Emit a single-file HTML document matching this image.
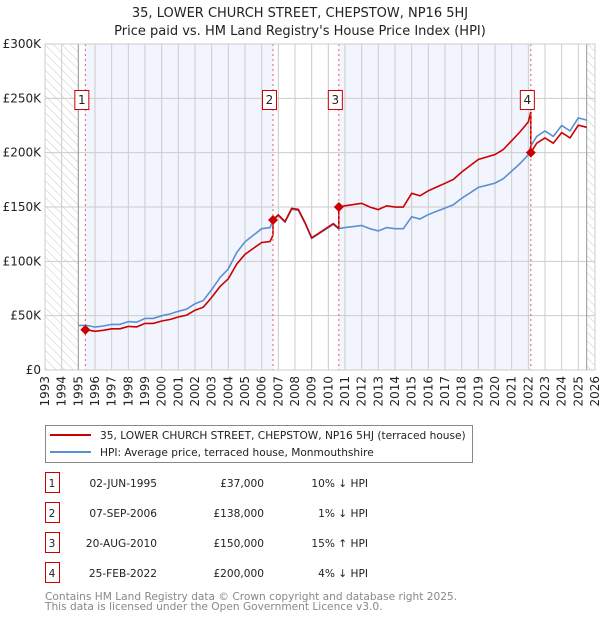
<!DOCTYPE html>
<html><head><meta charset="utf-8"><style>
body{margin:0;background:#fff;font-family:"DejaVu Sans","Liberation Sans",sans-serif}
svg text{font-family:"DejaVu Sans","Liberation Sans",sans-serif}
</style></head><body>
<svg id="c" width="600" height="620" xmlns="http://www.w3.org/2000/svg">
<defs><pattern id="hatch" width="6" height="6" patternUnits="userSpaceOnUse" patternTransform="rotate(-45)"><line x1="0" y1="0" x2="0" y2="6" stroke="#bbb" stroke-width="0.8"/></pattern></defs>
<text x="300" y="17" text-anchor="middle" font-size="13" fill="#222">35, LOWER CHURCH STREET, CHEPSTOW, NP16 5HJ</text>
<text x="300" y="35" text-anchor="middle" font-size="13" fill="#222">Price paid vs. HM Land Registry's House Price Index (HPI)</text>
<g id="plot"></g>
<g id="legend">
<rect x="45.5" y="425.5" width="427" height="37" fill="#fff" stroke="#888"/>
<line x1="50" y1="435" x2="91" y2="435" stroke="#cc0000" stroke-width="2"/>
<text x="100" y="439" font-size="10.6" fill="#222">35, LOWER CHURCH STREET, CHEPSTOW, NP16 5HJ (terraced house)</text>
<line x1="50" y1="452" x2="91" y2="452" stroke="#5b8fd4" stroke-width="2"/>
<text x="100" y="456" font-size="10.6" fill="#222">HPI: Average price, terraced house, Monmouthshire</text>
</g>
<g id="table" font-size="10.6" fill="#222"></g>
<text x="45" y="600" font-size="10.6" fill="#888">Contains HM Land Registry data © Crown copyright and database right 2025.</text>
<text x="45" y="610" font-size="10.6" fill="#888">This data is licensed under the Open Government Licence v3.0.</text>
</svg>
<script>
const hpiYears=[1995.0,1995.5,1996,1996.5,1997,1997.5,1998,1998.5,1999,1999.5,2000,2000.5,2001,2001.5,2002,2002.5,2003,2003.5,2004,2004.5,2005,2005.5,2006,2006.5,2006.7,2007,2007.4,2007.8,2008.2,2008.6,2009.0,2009.5,2010,2010.3,2010.6,2011,2011.5,2012,2012.5,2013,2013.5,2014,2014.5,2015,2015.5,2016,2016.5,2017,2017.5,2018,2018.5,2019,2019.5,2020,2020.5,2021,2021.5,2022,2022.15,2022.5,2023,2023.5,2024,2024.5,2025,2025.5];
const hpiValues=[41,41,39.5,40.5,42,42,44.5,44,47.5,47.5,50,51.5,54,56,61,64,74,85,93,108,118,124,130,131,138,142,136,148,147,135,121,126,131,134,130,131,132,133,130,128,131,130,130,141,139,143,146,149,152,158,163,168,170,172,176,183,190,198,206,215,220,215,225,220,232,230];
const saleLabels=["1","2","3","4"];
const saleYears=[1995.42,2006.68,2010.63,2022.15];
const salePrices=[37000,138000,150000,200000];
const saleDates=["02-JUN-1995","07-SEP-2006","20-AUG-2010","25-FEB-2022"];
const salePriceText=["£37,000","£138,000","£150,000","£200,000"];
const saleDiffText=["10% ↓ HPI","1% ↓ HPI","15% ↑ HPI","4% ↓ HPI"];
const yTicks=[0,50000,100000,150000,200000,250000,300000];
const yTickLabels=["£0","£50K","£100K","£150K","£200K","£250K","£300K"];

const NS="http://www.w3.org/2000/svg";
const X0=45,X1=595,Y0=370,Y1=44,xMin=1993,xMax=2026,yMax=300000;
const xs=v=>X0+(v-xMin)/(xMax-xMin)*(X1-X0);
const ys=v=>Y0-v/yMax*(Y0-Y1);
function mk(tag,a,p){const e=document.createElementNS(NS,tag);for(const k in a)e.setAttribute(k,a[k]);(p||plot).appendChild(e);return e;}
const plot=document.getElementById('plot');
function hpiAt(t){for(let i=0;i<hpiYears.length-1;i++){if(t<=hpiYears[i+1]){const f=(t-hpiYears[i])/(hpiYears[i+1]-hpiYears[i]);return (hpiValues[i]+f*(hpiValues[i+1]-hpiValues[i]))*1000;}}return hpiValues[hpiValues.length-1]*1000;}

let r;
r=mk('rect',{x:X0,y:Y1,width:xs(1995)-X0,height:Y0-Y1,fill:'url(#hatch)'});


r=mk('rect',{x:xs(2025.5),y:Y1,width:X1-xs(2025.5),height:Y0-Y1,fill:'url(#hatch)'});


for(let i=0;i<saleYears.length;i+=2){
 const a=saleYears[i],b=i+1<saleYears.length?saleYears[i+1]:2025.5;
 r=mk('rect',{x:xs(a),y:Y1,width:xs(b)-xs(a),height:Y0-Y1,fill:'#f2f5fd'});
 
 
}
for(let y=xMin;y<=xMax;y++){
 const g=mk('line',{x1:xs(y),x2:xs(y),y1:Y1,y2:Y0,stroke:'#ccc','stroke-width':1});
 
 
 const t=mk('text',{x:0,y:0,'font-size':12,fill:'#222','text-anchor':'end',transform:`translate(${xs(y)+4},${Y0+6}) rotate(-90)`});
 t.textContent=y;
 
 
}
yTicks.forEach((v,i)=>{
 const g=mk('line',{x1:X0,x2:X1,y1:ys(v),y2:ys(v),stroke:'#ccc','stroke-width':1});
 
 
 const t=mk('text',{x:X0-4,y:ys(v)+4,'font-size':12,fill:'#222','text-anchor':'end'});
 t.textContent=yTickLabels[i];
 
 
});
mk('line',{x1:xs(1995),x2:xs(1995),y1:Y1,y2:Y0,stroke:'#999'});
mk('line',{x1:xs(2025.5),x2:xs(2025.5),y1:Y1,y2:Y0,stroke:'#999'});
let d=hpiYears.map((t,i)=>(i?'L':'M')+xs(t).toFixed(1)+','+ys(hpiValues[i]*1000).toFixed(1)).join('');
const hl=mk('path',{d,fill:'none',stroke:'#5b8fd4','stroke-width':1.6});


let pts=[];
for(let s=0;s<saleYears.length;s++){
 const a=saleYears[s],b=s+1<saleYears.length?saleYears[s+1]:2025.5,k=salePrices[s]/hpiAt(a);
 const ts=[a].concat(hpiYears.filter(t=>t>a&&t<b)).concat([b]);
 ts.forEach((t,j)=>{let v=hpiAt(t)*k; if(j==ts.length-1&&s+1<saleYears.length){pts.push([t,v]);pts.push([t,salePrices[s+1]]);} else pts.push([t,v]);});
}
d=pts.map((p,i)=>(i?'L':'M')+xs(p[0]).toFixed(1)+','+ys(p[1]).toFixed(1)).join('');
const pl=mk('path',{d,fill:'none',stroke:'#cc0000','stroke-width':1.6});


saleYears.forEach((t,i)=>{
 const x=xs(t);
 const l=mk('line',{x1:x,x2:x,y1:Y1,y2:Y0,stroke:'#e06060','stroke-dasharray':'2,3'});
 
 
 const yv=ys(salePrices[i]);
 const dm=mk('path',{d:`M${x},${yv-5}L${x+5},${yv}L${x},${yv+5}L${x-5},${yv}Z`,fill:'#cc0000'});
 
 
 const b=mk('rect',{x:x-10.5,y:90.5,width:14,height:19,fill:'#fff',stroke:'#cc0000'});
 
 
 const tx=mk('text',{x:x-3.5,y:104,'font-size':12,'text-anchor':'middle',fill:'#222'});
 tx.textContent=saleLabels[i];
 
 
});
mk('rect',{x:X0,y:Y1,width:X1-X0,height:Y0-Y1,fill:'none',stroke:'#ccc'});
const tb=document.getElementById('table');
saleYears.forEach((t,i)=>{
 const cy=483+i*30;
 const b=mk('rect',{x:45.5,y:cy-10.5,width:14,height:20,fill:'#fff',stroke:'#cc0000'},tb);
 
 
 const cells=[[52,'middle',saleLabels[i],'table-row-number'],[157,'end',saleDates[i],'table-date'],[264,'end',salePriceText[i],'table-price'],[368,'end',saleDiffText[i],'table-hpi-diff']];
 cells.forEach(c=>{const e=mk('text',{x:c[0],y:cy+4,'text-anchor':c[1],'font-size':10.6,fill:'#222'},tb);e.textContent=c[2];
 
 });
});
</script>
</body></html>
